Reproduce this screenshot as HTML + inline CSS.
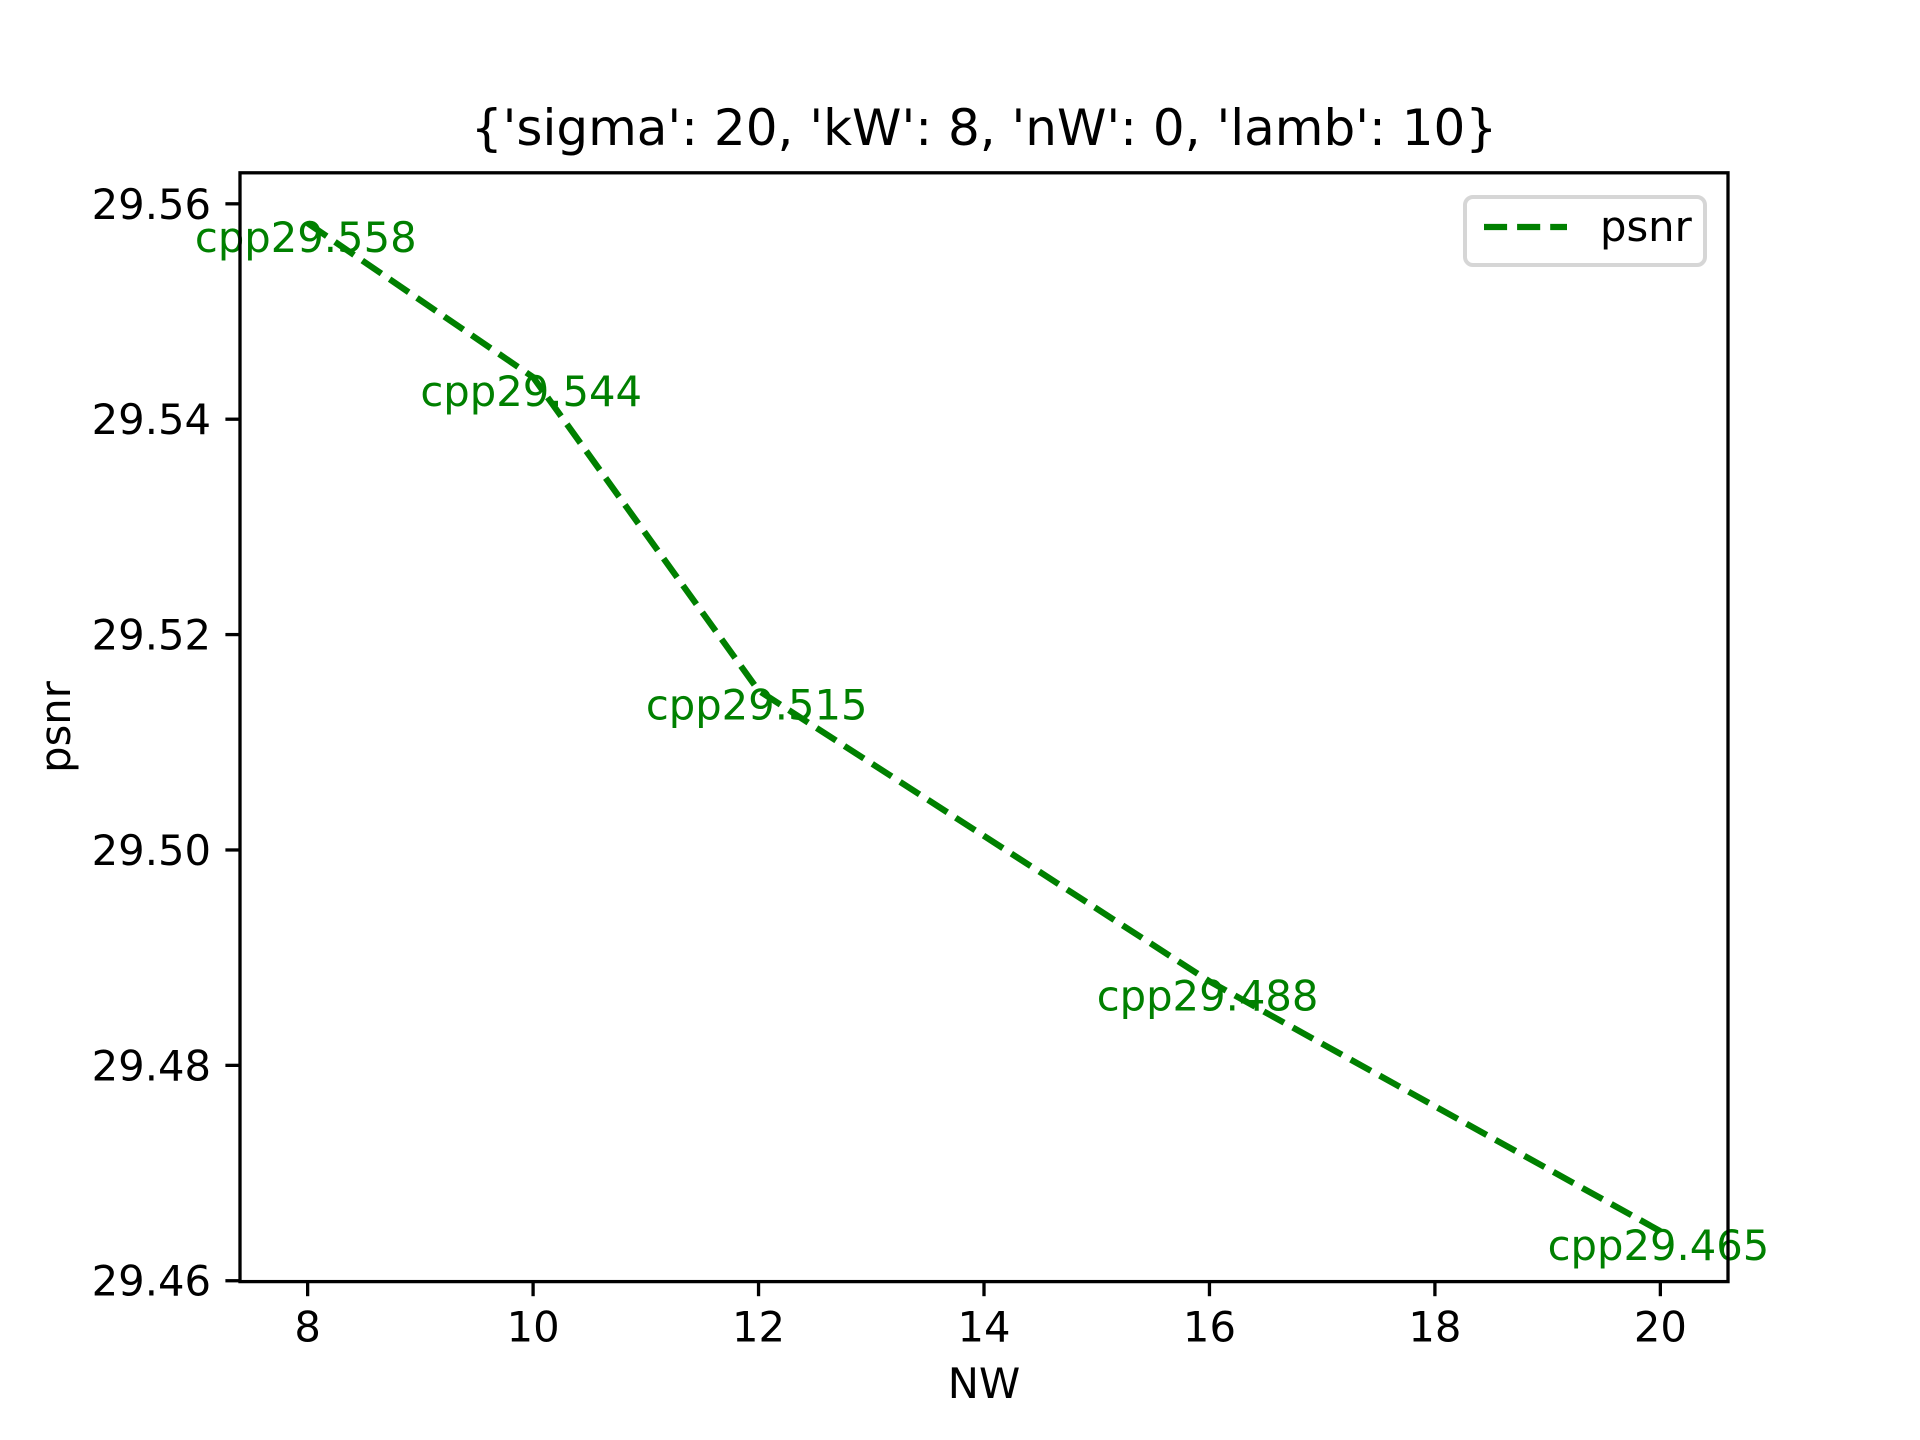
<!DOCTYPE html>
<html><head><meta charset="utf-8"><style>
html,body{margin:0;padding:0;background:#fff;}
svg{display:block;font-family:"DejaVu Sans","Liberation Sans",sans-serif;}
</style></head><body>
<svg id="chart" width="1920" height="1440" viewBox="0 0 1920 1440" xmlns="http://www.w3.org/2000/svg">
<rect width="1920" height="1440" fill="#fff"/>
<text x="984" y="145" font-size="50" text-anchor="middle">{'sigma': 20, 'kW': 8, 'nW': 0, 'lamb': 10}</text>
<g id="plot"></g>
<text x="984" y="1398" font-size="41.7" text-anchor="middle">NW</text>
<text transform="translate(70,727) rotate(-90)" font-size="41.7" text-anchor="middle">psnr</text>
<g>
<rect x="1465" y="197" width="240" height="68" rx="8" fill="#fff" fill-opacity="0.8" stroke="#d6d6d6" stroke-width="4"/>
<line x1="1484" y1="227" x2="1567" y2="227" stroke="#008000" stroke-width="6.25" stroke-dasharray="23.1,10"/>
<text x="1600" y="241" font-size="41.7">psnr</text>
</g>
</svg>
<script>
const xValues = [8, 10, 12, 16, 20];
const psnrValues = [29.5582, 29.5439, 29.5148, 29.4878, 29.4646];
const labelValues = ["cpp29.558", "cpp29.544", "cpp29.515", "cpp29.488", "cpp29.465"];
const xTicks = [8, 10, 12, 14, 16, 18, 20];
const yTicks = [29.46, 29.48, 29.50, 29.52, 29.54, 29.56];

const NS = "http://www.w3.org/2000/svg";
const L = 240, R = 1728, T = 172.8, B = 1281.6;
const xmin0 = Math.min(...xValues), xmax0 = Math.max(...xValues);
const ymin0 = Math.min(...psnrValues), ymax0 = Math.max(...psnrValues);
const xm = (xmax0 - xmin0) * 0.05, ym = (ymax0 - ymin0) * 0.05;
const xlo = xmin0 - xm, xhi = xmax0 + xm, ylo = ymin0 - ym, yhi = ymax0 + ym;
const sx = v => L + (v - xlo) / (xhi - xlo) * (R - L);
const sy = v => B - (v - ylo) / (yhi - ylo) * (B - T);
const plot = document.getElementById('plot');
function mk(tag, attrs, parent) {
  const e = document.createElementNS(NS, tag);
  for (const k in attrs) e.setAttribute(k, attrs[k]);
  (parent || plot).appendChild(e);
  return e;
}
const pts = xValues.map((x, i) => sx(x) + "," + sy(psnrValues[i])).join(" ");
const line = mk('polyline', {points: pts, fill: 'none', stroke: '#008000', 'stroke-width': 6.25, 'stroke-dasharray': '23.1,10'});


xValues.forEach((x, i) => {
  const t = mk('text', {x: sx(x - 1), y: sy(psnrValues[i]) + 29, 'font-size': 41.7, fill: '#008000'});
  t.textContent = labelValues[i];
  
  
});
const fr = mk('rect', {x: L, y: T, width: R - L, height: B - T, fill: 'none', stroke: '#000', 'stroke-width': 3.3});


xTicks.forEach(v => {
  const x = sx(v);
  const tk = mk('line', {x1: x, y1: B, x2: x, y2: B + 14.6, stroke: '#000', 'stroke-width': 3.3});
  
  
  const t = mk('text', {x: x, y: B + 60, 'font-size': 41.7, 'text-anchor': 'middle'});
  t.textContent = String(v);
  
  
});
yTicks.forEach(v => {
  const y = sy(v);
  const tk = mk('line', {x1: L - 14.6, y1: y, x2: L, y2: y, stroke: '#000', 'stroke-width': 3.3});
  
  
  const t = mk('text', {x: L - 29, y: y + 15, 'font-size': 41.7, 'text-anchor': 'end'});
  t.textContent = v.toFixed(2);
  
  
});
</script>
</body></html>
